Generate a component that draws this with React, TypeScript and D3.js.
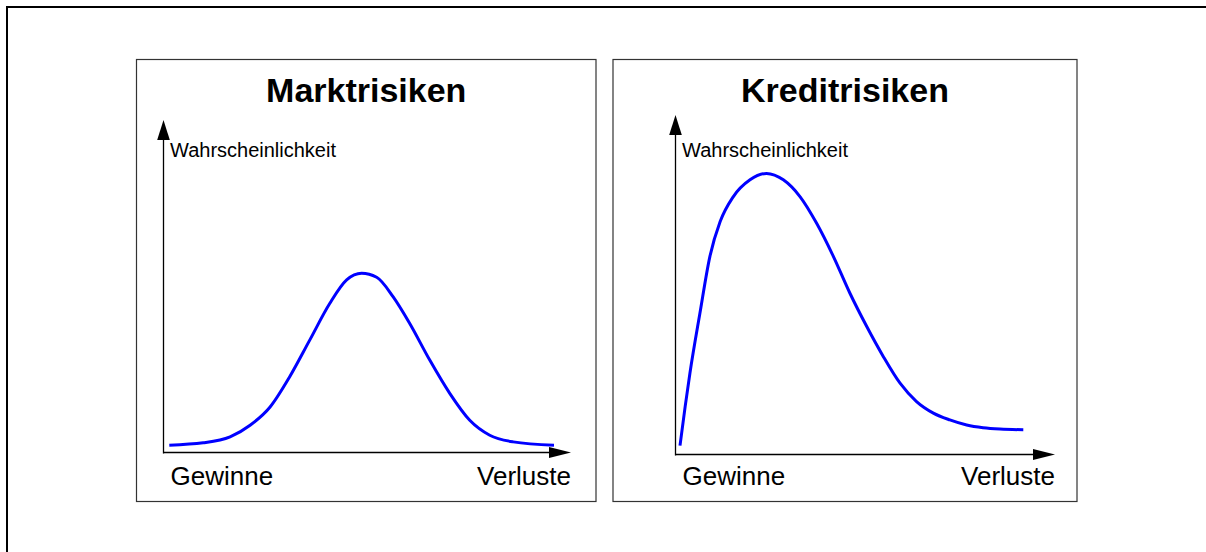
import * as d3 from 'd3'

// x = 0 (Gewinne) .. 100 (Verluste), y = probability on 0..100 scale
const marketX = [0, 8.8, 15.8, 21.0, 26.2, 31.3, 36.5, 41.7, 46.1, 50, 53.9, 58.2, 62.5, 67.7, 72.9, 78.1, 83.3, 89.4, 100]
const marketY = [2.2, 2.9, 4.7, 8.2, 13.7, 22.8, 33.8, 44.8, 51.9, 53.9, 52.7, 46.8, 38.8, 27.8, 17.8, 9.7, 5.2, 3.2, 2.2]

const creditX = [0, 1.5, 2.9, 5.8, 8.7, 11.7, 15.5, 20.4, 25.2, 30.1, 35.0, 39.8, 44.7, 49.5, 54.4, 59.2, 64.1, 68.9, 73.8, 78.6, 83.5, 88.3, 93.2, 100]
const creditY = [2.6, 14.1, 24.0, 41.6, 58.3, 68.6, 75.9, 80.9, 82.8, 80.9, 75.9, 68.1, 58.3, 47.5, 37.7, 28.9, 21.0, 15.6, 12.2, 10.2, 8.7, 7.9, 7.5, 7.3]

const titles = ['Marktrisiken', 'Kreditrisiken']
const yLabel = 'Wahrscheinlichkeit'
const xLabels = ['Gewinne', 'Verluste']

const W = 1206, H = 552
const FONT = '"Liberation Sans", Arial, Helvetica, sans-serif'

interface PanelGeom {
  left: number; top: number; right: number; bottom: number
  axisX: number; axisY: number; arrowTop: number; arrowRight: number
  curveX0: number; curveX1: number
}

const panels: PanelGeom[] = [
  { left: 136.5, top: 59.5, right: 596, bottom: 501.5, axisX: 163.5, axisY: 452.5, arrowTop: 120, arrowRight: 571, curveX0: 169.3, curveX1: 554 },
  { left: 613, top: 59.5, right: 1077, bottom: 501.5, axisX: 675.5, axisY: 454.5, arrowTop: 115, arrowRight: 1055, curveX0: 680, curveX1: 1023.3 },
]

function Panel({ g, title, xs, ys }: { g: PanelGeom; title: string; xs: number[]; ys: number[] }) {
  const x = d3.scaleLinear([0, 100], [g.curveX0, g.curveX1])
  const y = d3.scaleLinear([0, 100], [g.axisY, g.arrowTop])
  const line = d3.line<number>()
    .x((_, i) => x(xs[i]))
    .y((d) => y(d))
    .curve(d3.curveMonotoneX)
  const cx = (g.left + g.right) / 2
  return (
    <g>
      <rect x={g.left} y={g.top} width={g.right - g.left} height={g.bottom - g.top}
        fill="#fff" stroke="#333" strokeWidth={1.2} />
      <text x={cx} y={101.5} textAnchor="middle" fontFamily={FONT} fontWeight="bold" fontSize={34}>{title}</text>
      {/* y axis */}
      <line x1={g.axisX} x2={g.axisX} y1={g.arrowTop + 18} y2={g.axisY + 1} stroke="#000" strokeWidth={1.3} />
      <path d={`M${g.axisX},${g.arrowTop} L${g.axisX - 6.3},${g.arrowTop + 20} L${g.axisX + 6.3},${g.arrowTop + 20} Z`} fill="#000" />
      {/* x axis */}
      <line x1={g.axisX} x2={g.arrowRight - 20} y1={g.axisY} y2={g.axisY} stroke="#000" strokeWidth={1.3} />
      <path d={`M${g.arrowRight},${g.axisY} L${g.arrowRight - 22},${g.axisY - 5.5} L${g.arrowRight - 22},${g.axisY + 5.5} Z`} fill="#000" />
      <text x={g.axisX + 6.5} y={157} fontFamily={FONT} fontSize={20}>{yLabel}</text>
      <text x={g.axisX + 7} y={485} fontFamily={FONT} fontSize={26}>{xLabels[0]}</text>
      <text x={g.arrowRight} y={485} textAnchor="end" fontFamily={FONT} fontSize={26}>{xLabels[1]}</text>
      <path d={line(ys) ?? ''} fill="none" stroke="#0000ff" strokeWidth={3} strokeLinecap="butt" strokeLinejoin="round" />
    </g>
  )
}

export default function App() {
  return (
    <svg width={W} height={H} viewBox={`0 0 ${W} ${H}`}
      style={{ position: 'absolute', left: 0, top: 0, background: '#fff' }}>
      <rect x={7} y={7} width={1400} height={700} fill="#fff" stroke="#000" strokeWidth={2} />
      <Panel g={panels[0]} title={titles[0]} xs={marketX} ys={marketY} />
      <Panel g={panels[1]} title={titles[1]} xs={creditX} ys={creditY} />
    </svg>
  )
}
